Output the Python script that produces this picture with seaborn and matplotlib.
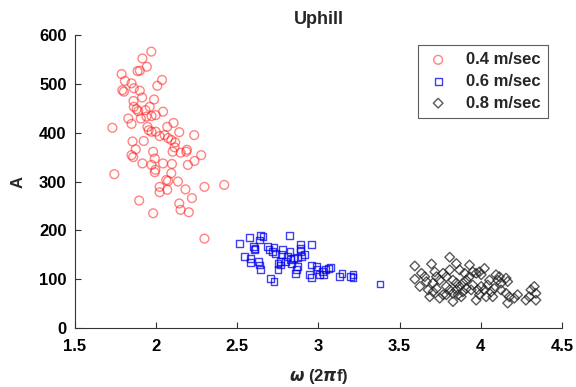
import matplotlib
matplotlib.use("Agg")
import matplotlib.pyplot as plt
import seaborn as sns
import pandas as pd

# ------------------------------
# Data
# ------------------------------

w_04 = [1.971, 1.916, 1.943, 1.886, 1.900, 1.788, 1.808, 1.849, 2.037, 2.008,
        1.792, 1.802, 1.863, 1.900, 1.914, 1.988, 1.861, 1.863, 1.880, 1.890,
        1.935, 1.961, 2.043, 1.829, 1.849, 1.906, 1.941, 1.972, 1.998, 1.731,
        2.108, 1.947, 1.955, 1.972, 1.998, 2.069, 2.143, 2.022, 2.053, 2.074,
        2.094, 2.118, 2.235, 1.855, 1.924, 1.875, 1.849, 1.859, 1.982, 1.992,
        2.102, 2.114, 2.151, 2.186, 2.190, 2.278, 2.237, 2.196, 1.916, 1.972,
        1.996, 1.992, 2.043, 2.098, 2.094, 1.743, 2.063, 2.074, 2.135, 2.022,
        2.022, 2.069, 2.181, 2.298, 2.420, 2.221, 1.896, 2.143, 2.151, 2.202,
        1.982, 2.298]
a_04 = [566, 552, 535, 526, 527, 520, 506, 501, 508, 496,
        487, 484, 491, 486, 472, 468, 465, 453, 448, 444,
        446, 453, 443, 429, 418, 429, 433, 434, 436, 410,
        420, 412, 405, 402, 402, 412, 401, 393, 395, 389,
        385, 380, 395, 382, 383, 366, 354, 350, 361, 347,
        361, 370, 359, 361, 365, 354, 342, 334, 337, 334,
        324, 319, 337, 336, 317, 315, 303, 301, 300, 289,
        278, 283, 284, 289, 293, 266, 261, 255, 242, 237,
        235, 183]

w_06 = [2.512, 2.574, 2.645, 2.659, 2.635, 2.600, 2.610, 2.604, 2.823, 2.890,
        2.890, 2.890, 2.956, 2.686, 2.696, 2.727, 2.717, 2.737, 2.778, 2.772,
        2.825, 2.809, 2.543, 2.580, 2.584, 2.629, 2.639, 2.645, 2.751, 2.768,
        2.768, 2.798, 2.829, 2.845, 2.870, 2.894, 2.915, 2.833, 2.866, 2.870,
        2.751, 2.859, 2.956, 2.988, 2.992, 3.023, 3.043, 3.064, 3.074, 2.947,
        2.956, 3.006, 3.033, 3.145, 3.131, 3.196, 3.213, 3.213, 2.706, 2.727,
        3.380]
a_06 = [173, 185, 190, 188, 180, 167, 163, 161, 190, 172,
        163, 156, 171, 167, 160, 165, 156, 153, 161, 150,
        156, 146, 146, 143, 134, 136, 129, 120, 132, 136,
        129, 136, 141, 143, 145, 147, 150, 131, 120, 126,
        119, 112, 129, 126, 119, 115, 119, 122, 124, 110,
        104, 110, 110, 112, 106, 105, 110, 104, 102, 96,
        90]

w_08 = [3.809, 3.594, 3.697, 3.850, 3.931, 4.023, 3.992, 3.972, 3.594, 3.635,
        3.655, 3.666, 3.717, 3.727, 3.747, 3.706, 3.768, 3.788, 3.809, 3.829,
        3.850, 3.788, 3.809, 3.829, 3.850, 3.870, 3.890, 3.911, 3.931, 3.890,
        3.911, 3.941, 3.951, 3.829, 3.747, 3.972, 3.982, 4.003, 4.023, 4.043,
        4.054, 4.064, 4.084, 4.105, 4.125, 4.156, 4.166, 4.125, 4.156, 4.176,
        4.207, 4.227, 4.166, 4.003, 4.278, 4.299, 4.330, 4.340, 4.340, 4.309,
        3.686, 3.676, 3.625, 3.706, 3.727, 3.768, 3.788, 3.860, 3.880, 3.992,
        4.033, 4.074, 3.870, 3.901, 4.094, 4.115, 3.951]
a_08 = [145, 127, 131, 132, 129, 122, 115, 112, 100, 112,
        105, 95, 115, 105, 98, 92, 112, 105, 119, 98,
        92, 85, 78, 71, 78, 85, 92, 98, 105, 74,
        81, 78, 88, 54, 61, 57, 78, 85, 78, 88,
        98, 74, 81, 98, 92, 102, 95, 78, 71, 64,
        61, 68, 51, 109, 57, 64, 85, 71, 57, 78,
        64, 78, 85, 74, 81, 68, 68, 68, 64, 68,
        64, 64, 119, 112, 109, 105, 115]

speeds = ["0.4 m/sec", "0.6 m/sec", "0.8 m/sec"]
x_ticks = [1.5, 2, 2.5, 3, 3.5, 4, 4.5]
y_ticks = [0, 100, 200, 300, 400, 500, 600]

df = pd.concat([
    pd.DataFrame({"w": w_04, "A": a_04, "speed": speeds[0]}),
    pd.DataFrame({"w": w_06, "A": a_06, "speed": speeds[1]}),
    pd.DataFrame({"w": w_08, "A": a_08, "speed": speeds[2]}),
])

# ------------------------------
# Plot
# ------------------------------

sns.set_style("ticks")
plt.rcParams["font.family"] = ["Liberation Sans", "DejaVu Sans"]
plt.rcParams["font.weight"] = "bold"

fig = plt.figure(figsize=(5.76, 3.87), dpi=100)
ax = fig.add_axes([0.130, 0.1525, 0.8455, 0.757])

styles = {
    speeds[0]: dict(marker="o", color="#ff2020", s=40, alpha=0.55),
    speeds[1]: dict(marker="s", color="#0000ee", s=24, alpha=0.75),
    speeds[2]: dict(marker="D", color="#222222", s=24, alpha=0.75),
}

for sp in speeds:
    st = styles[sp]
    sns.scatterplot(data=df[df["speed"] == sp], x="w", y="A", ax=ax,
                    marker=st["marker"], s=st["s"], facecolor="none",
                    edgecolor=st["color"], linewidth=1.0, alpha=st["alpha"],
                    label=sp)

ax.set_xlim(1.5, 4.5)
ax.set_ylim(0, 600)
ax.set_xticks(x_ticks)
ax.set_xticklabels([f"{t:g}" for t in x_ticks])
ax.set_yticks(y_ticks)
ax.tick_params(direction="in", length=4, labelsize=12, width=0.8, colors="#333333",
               labelcolor="black")
ax.tick_params(axis="x", pad=8)
ax.tick_params(axis="y", pad=6)
for lbl in ax.get_xticklabels() + ax.get_yticklabels():
    lbl.set_fontweight("bold")
sns.despine(ax=ax)
for sp_name in ["left", "bottom"]:
    ax.spines[sp_name].set_color("#333333")
    ax.spines[sp_name].set_linewidth(0.8)

ax.set_title("Uphill", fontsize=13, fontweight="bold", pad=8)
ax.set_xlabel(r"$\omega$ (2$\pi$f)", fontsize=12, fontweight="bold", labelpad=9)
ax.set_ylabel("A", fontsize=12, fontweight="bold", labelpad=10)

leg = ax.legend(loc="upper right", bbox_to_anchor=(0.971, 0.967), fontsize=12,
                frameon=True, fancybox=False, edgecolor="#333333",
                handlelength=1.5, handletextpad=0.9, borderpad=0.45,
                labelspacing=0.4, borderaxespad=0)
leg.get_frame().set_linewidth(0.8)
for t in leg.get_texts():
    t.set_fontweight("bold")

plt.savefig("out.png", dpi=100)
